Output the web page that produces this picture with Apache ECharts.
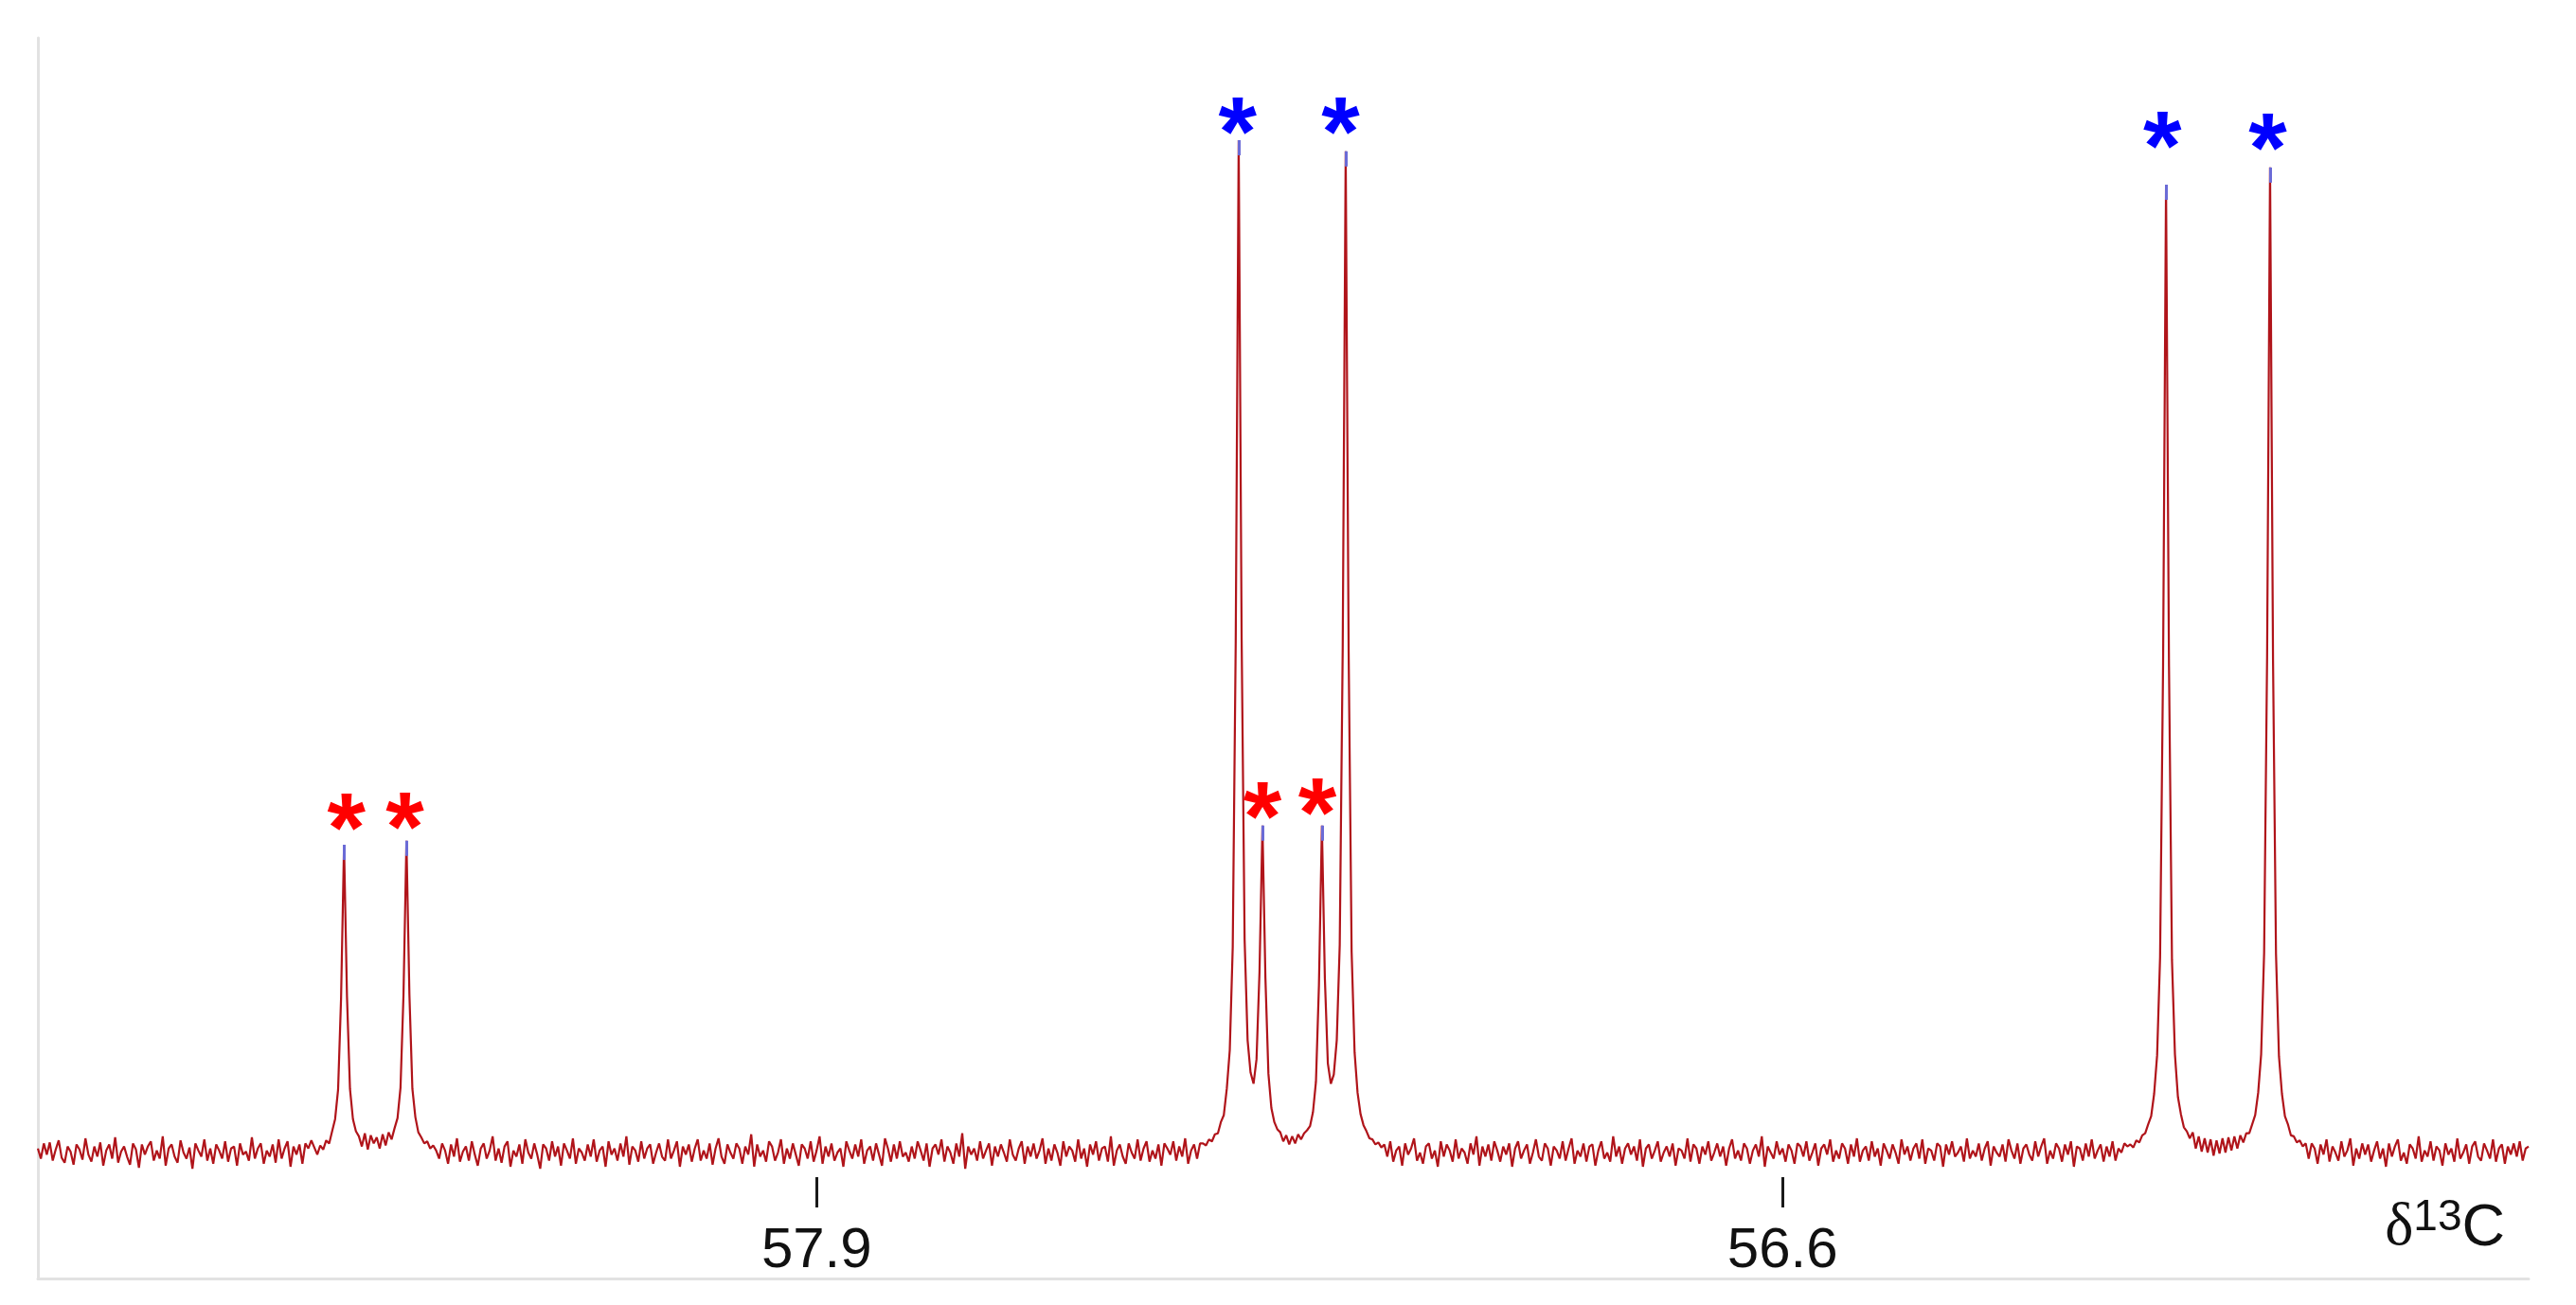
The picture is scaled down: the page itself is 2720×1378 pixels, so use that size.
<!DOCTYPE html>
<html>
<head>
<meta charset="utf-8">
<script src="https://cdn.jsdelivr.net/npm/echarts@6/dist/echarts.min.js"></script>
<style>
html,body{margin:0;padding:0;background:#fff;}
#chart{width:2720px;height:1378px;}
</style>
</head>
<body>
<div id="chart"></div>
<script>
// ---- data (13C chemical shift, ppm; intensity in arbitrary units) ----
const STEP = 0.004;                 // spectral point spacing (ppm)
const PPM_LEFT = 58.948;
const PPM_RIGHT = 55.596;
const tickValues = [57.9, 56.6];

const noise1Start = 58.948;
const noise1 = [ 4,-6, 9,-2,10,-8, 3,12,-5,-10, 6, 1,-12, 8, 3,-7,14,-2,-9, 6,
 -4,10,-13, 2, 8,-6,15,-10, 1, 6,-4,-12, 9, 3,-15, 8,-2, 6,11,-8,
  2,-6,16,-13, 4, 8,-4,-10,12, 0,-6, 5,-16, 9, 2,-4,13,-8, 4,-11,
  8, 2,-6,11,-9, 4, 6,-13, 9,-2, 1,-8,15,-6, 4, 9,-11, 2,-4, 8,
 -10,13,-6, 4,11,-14, 6,-2, 8,-11, 9, 4,12];

const pairAStart = 58.576;          // two minor peaks at 58.536 / 58.452
const pairA = [ 5,-2, 7, 3, 12, 9, 21, 33, 62, 152, 304, 154, 63, 33, 21, 16, 6, 19, 3, 17,
  9, 15, 4, 18, 7, 20, 13, 24, 34, 64, 155, 308, 156, 63, 35, 20, 15, 9, 11, 4,
  7, 2];

const noise2Start = 58.408;
const noise2 = [-6, 9, 2,-11, 8,-4,14,-9, 1, 6,-8,11,-2,-13, 4, 9,-6, 2,16,-8,
  4,-10, 6,11,-14, 2,-4, 8,-11,13, 0,-6, 9,-2,-16, 8, 4,-8,11,-4,
  6,-13, 9, 2,-6,14,-11, 4, 0,-8, 8,-4,13,-9, 2, 6,-14,11,-2, 4,
 -8, 9,-4,16,-12, 6, 2,-9,11,-6, 4, 8,-11, 0, 9,-4,-8,13,-6, 2,
 11,-14, 6,-2, 8,-9, 4,13,-8, 2,-6, 9,-12, 4,14,-4,-11, 8, 0,-6,
  9, 4,-11, 6,-2,18,-14, 8,-4, 2,-9,11, 6,-8, 0,13,-11, 4,-6, 9,
 -2,-13, 8, 4,-6,11,-9, 2,16,-11, 6,-4, 9,-8, 0, 4,-14,11, 2,-6,
  8,-4,13,-11, 2, 6,-8, 9,-2,-13,14, 4,-9, 8,-6,11,-4, 0,-9, 6,
 -6,11, 2,-8, 9,-14, 4, 8,-2,13,-9, 6, 0,-11, 9,-4,19,-16, 6,-2,
  4,-8,11,-6, 2, 9,-13, 6,-4, 8, 0,-9,13,-2,-8, 4,11,-11, 6,-4,
  9,-6, 2,14,-11, 4,-8, 8, 0,-13,11,-4, 6, 2,-9,13,-6, 4,-14, 8,
 -2,11,-8, 4, 6,-9,16,-13, 2, 8,-4,-11, 9, 0,-6,13,-8, 4,11,-9,
  2,-6, 8,-13, 9, 4,-2,11,-8, 6,-4,14,-11, 2, 8,-6, 9];

const clusterStart = 57.380;        // 57.332 / 57.300 / 57.220 / 57.188
const cluster = [ 9, 7, 13, 11, 18, 19, 30, 37, 63, 101, 203, 503, 1000, 506, 210, 111, 79, 68, 92, 178,
  323, 172, 78, 44, 30, 23, 20, 11, 17, 8, 16, 9, 18, 13, 19, 22, 26, 40, 70, 165,
  323, 172, 88, 68, 77, 111, 205, 498, 989, 494, 198, 99, 59, 38, 27, 21, 14, 13, 8, 10,
  5];

const noise3Start = 57.136;
const noise3 = [ 8,-4,11,-9, 2, 6,-13, 9,-2, 4,14,-8, 0,-11, 6, 9,-6, 2,-14,11,
 -4, 8, 2,-9,13,-6, 4, 0,-11, 9,-2,16,-13, 6,-4, 8,-8,11, 2,-9,
  6,-2, 9,-14, 4,11,-6, 2, 8,-11, 0,13,-4,-8, 9, 4,-13, 6, 2,-6,
 11,-8, 4,14,-11, 2,-4, 9,-9, 6, 8,-13, 2,11,-6, 0,-9,16,-4, 6,
-11, 4, 9,-2, 6,-8,13,-14, 4, 8,-6, 2,11,-9, 0, 6,-4, 9,-13, 4,
  2,-6,14,-9, 8, 4,-11, 6,-2,11,-8, 0, 9,-4, 6,-13, 4,13,-6, 2,
 -8, 9, 4,-11, 2, 8,-4,16,-14, 6, 0,-6,11,-2, 4,-9, 8, 2,-11, 9,
  6,-4,11,-8, 0, 9,-13, 4, 8,-2,13,-9, 2,-6, 9, 4,-11, 8,-4,14,
 -9, 2, 6,-8,11,-4, 4,-13, 9, 2,-6, 8, 0,-11,13,-2, 6,-8, 4, 9,
 -6,13,-11, 4, 2,-8, 9, 6,-14, 8,-2,11,-4, 0, 6,-9,14,-6, 2,-4,
  9,-8, 4,11,-13, 6, 0,-4, 8,-9,13, 2,-6, 9,-11, 4, 8,-2,-8,11,
 -4, 6,14,-11, 2,-6, 9, 4,-9, 8,-2,11,-14, 6, 4,-8, 9,-4,13,-6,
  2, 8,-9, 6,-4,11,-8, 4, 0, 9, 6];

const pairBStart = 56.132;          // 56.084 / 55.944
const pairB = [ 8, 5, 12, 10, 17, 19, 28, 36, 58, 96, 193, 479, 956, 480, 190, 97, 55, 38, 25, 21,
  14, 20, 4, 16, 1, 14, 0, 13, -3, 12, -1, 14, 0, 15, 2, 16, 4, 17, 10, 19,
  19, 28, 37, 59, 97, 197, 488, 973, 486, 196, 95, 58, 36, 28, 17, 16, 10, 12, 6, 9];

const noise4Start = 55.892;
const noise4 = [-6, 9, 4,-11, 8,-2,13,-9, 6, 0,-8,11,-4, 2,14,-13, 4,-6, 9,-2,
  8,-9, 2,11,-6, 4,-14, 9,-4, 6,13,-8, 0,-11, 8, 4,-6,16,-9, 2,
 -4,11,-8, 6, 2,-13, 9,-2, 4,-9,14,-6, 0, 8,-11, 6,11,-4,-8, 9,
  2,-6,13,-9, 4, 8,-11, 6,-2, 9,-4,11,-8, 4, 6];

// picked peak tops
const peakPpm = [58.536, 58.452, 57.332, 57.300, 57.220, 57.188, 56.084, 55.944];
const peakTop = [304, 308, 1000, 323, 323, 989, 956, 973];

// asterisk annotations
const minorStarPpm = [58.533, 58.454, 57.300, 57.226];
const minorStarInt = [336, 337, 348, 351];
const majorStarPpm = [57.3335, 57.195, 56.089, 55.947];
const majorStarInt = [1024, 1024, 1010, 1008];

// ---- build ----
const segments = [
  [noise1Start, noise1], [pairAStart, pairA], [noise2Start, noise2],
  [clusterStart, cluster], [noise3Start, noise3], [pairBStart, pairB],
  [noise4Start, noise4]
];
const spectrum = [];
segments.forEach(([start, vals]) => {
  vals.forEach((v, i) => spectrum.push([+(start - i * STEP).toFixed(4), v]));
});

const TIP = 15;
const tipLines = peakPpm.map((p, i) => [{coord: [p, peakTop[i]]}, {coord: [p, peakTop[i] - TIP]}]);

const starLabel = (color) => ({
  show: true, position: [1, 25], align: 'center', verticalAlign: 'middle',
  formatter: '*', color: color, opacity: 1,
  fontSize: 104, fontWeight: 'bold', fontFamily: 'Liberation Sans, Arial, sans-serif'
});

const chart = echarts.init(document.getElementById('chart'), null, {renderer: 'canvas'});
chart.setOption({
  animation: false,
  backgroundColor: '#ffffff',
  title: {
    text: '{d|δ}{s|13}{c|C}',
    right: 70, top: 1258,
    textStyle: {
      fontWeight: 'normal',
      rich: {
        d: {fontSize: 64, fontWeight: 'normal', fontFamily: 'Liberation Serif, serif', color: '#111', verticalAlign: 'bottom', lineHeight: 66},
        s: {fontSize: 46, fontWeight: 'normal', fontFamily: 'Liberation Sans, Arial, sans-serif', color: '#111', verticalAlign: 'top', lineHeight: 66},
        c: {fontSize: 63, fontWeight: 'normal', fontFamily: 'Liberation Sans, Arial, sans-serif', color: '#111', verticalAlign: 'bottom', lineHeight: 66}
      }
    }
  },
  grid: {left: 40, right: 50, top: 40, bottom: 28, containLabel: false},
  xAxis: [
    {
      type: 'value', min: PPM_RIGHT, max: PPM_LEFT, inverse: true, position: 'bottom',
      axisLine: {show: true, onZero: false, lineStyle: {color: '#e2e2e2', width: 3}},
      axisTick: {show: false}, axisLabel: {show: false}, splitLine: {show: false}
    },
    {
      type: 'value', min: PPM_RIGHT, max: PPM_LEFT, inverse: true, position: 'bottom', offset: -107,
      axisLine: {show: false, onZero: false},
      axisTick: {show: true, customValues: tickValues, length: 32, lineStyle: {color: '#1a1a1a', width: 3}},
      axisLabel: {show: true, customValues: tickValues, formatter: (v) => v.toFixed(1),
        fontSize: 60, color: '#111', fontFamily: 'Liberation Sans, Arial, sans-serif', margin: 48},
      splitLine: {show: false}
    }
  ],
  yAxis: {
    type: 'value', min: -124.4, max: 1101,
    axisLine: {show: true, onZero: false, lineStyle: {color: '#e2e2e2', width: 3}},
    axisTick: {show: false}, axisLabel: {show: false}, splitLine: {show: false}
  },
  series: [
    {
      type: 'line', data: spectrum, xAxisIndex: 0, showSymbol: false, symbol: 'none',
      sampling: false, lineStyle: {color: '#b0141a', width: 2.2}, z: 2,
      markLine: {
        silent: true, symbol: ['none', 'none'], label: {show: false},
        lineStyle: {color: '#6b6bd6', width: 3, type: 'solid'},
        emphasis: {disabled: true},
        data: tipLines
      }
    },
    {
      type: 'scatter', xAxisIndex: 0, symbolSize: 2, itemStyle: {color: 'rgba(0,0,0,0)'}, z: 5,
      data: minorStarPpm.map((p, i) => [p, minorStarInt[i]]),
      label: starLabel('#ff0000'), labelLayout: {hideOverlap: false}
    },
    {
      type: 'scatter', xAxisIndex: 0, symbolSize: 2, itemStyle: {color: 'rgba(0,0,0,0)'}, z: 5,
      data: majorStarPpm.map((p, i) => [p, majorStarInt[i]]),
      label: starLabel('#0000ff'), labelLayout: {hideOverlap: false}
    }
  ]
});
</script>
</body>
</html>
